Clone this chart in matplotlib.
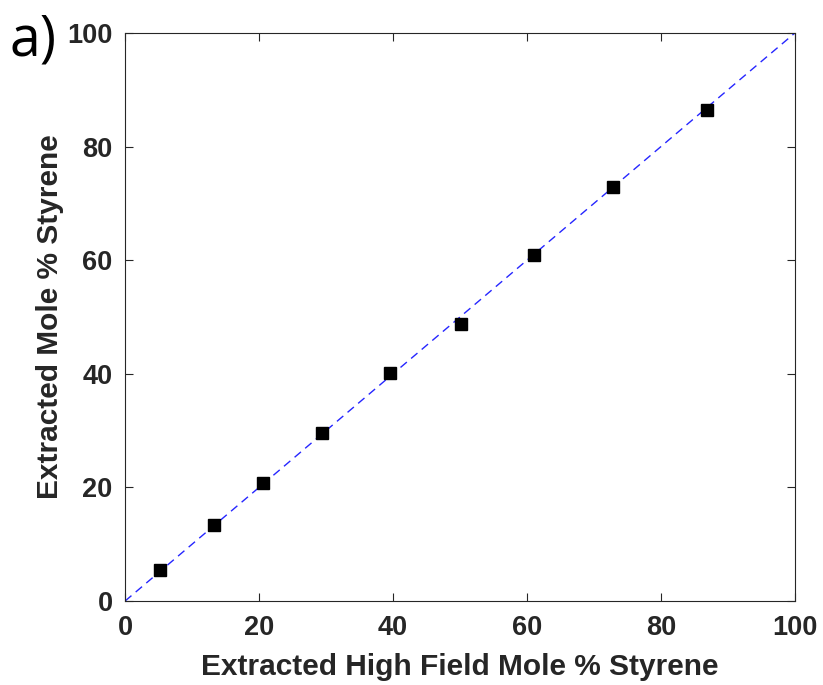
import matplotlib
matplotlib.use("Agg")
import matplotlib.pyplot as plt
import numpy as np

high_field = [5.2, 13.3, 20.6, 29.4, 39.5, 50.1, 61.1, 72.8, 86.8]
extracted = [5.4, 13.3, 20.7, 29.6, 40.2, 48.8, 60.9, 72.8, 86.5]
ticks = [0, 20, 40, 60, 80, 100]
ident = [0, 100]

fig = plt.figure(figsize=(8.23, 6.85), dpi=100)
ax = fig.add_axes([0.152, 0.1226, 0.814, 0.8294])
tc = '#262626'
ax.plot(ident, ident, '--', color='blue', lw=1.0, dashes=(6, 4), alpha=0.85)
ax.plot(high_field, extracted, 's', color='black', markersize=9, markeredgecolor='black')
ax.set_xlim(0, 100)
ax.set_ylim(0, 100)
ax.set_xticks(ticks)
ax.set_yticks(ticks)
ax.tick_params(direction='in', top=True, right=True, length=6, width=0.8, colors=tc,
               labelsize=19.5)
ax.tick_params(axis='x', pad=10)
ax.tick_params(axis='y', pad=9)
for lab in ax.get_xticklabels() + ax.get_yticklabels():
    lab.set_fontweight('bold')
    lab.set_family('Liberation Sans')
for s in ax.spines.values():
    s.set_color(tc)
    s.set_linewidth(0.8)
ax.set_xlabel('Extracted High Field Mole % Styrene', fontsize=21.5, fontweight='bold',
              family='Liberation Sans', color=tc, labelpad=9)
ax.set_ylabel('Extracted Mole % Styrene', fontsize=21.5, fontweight='bold',
              family='Liberation Sans', color=tc, labelpad=2)
fig.text(0.012, 0.94, 'a)', fontsize=40, family='Open Sans', color='black', va='center')
fig.savefig('out.png', dpi=100)
